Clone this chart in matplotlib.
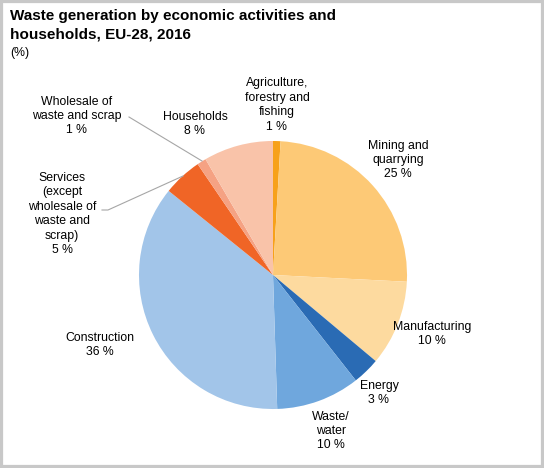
import matplotlib.pyplot as plt
from matplotlib.patches import Rectangle

# Data (shares in %)
categories = ["Agriculture,\nforestry and\nfishing", "Mining and\nquarrying", "Manufacturing",
              "Energy", "Waste/\nwater", "Construction",
              "Services\n(except\nwholesale of\nwaste and\nscrap)", "Wholesale of\nwaste and scrap",
              "Households"]
shares = [0.9, 24.9, 10.3, 3.3, 10.1, 36.3, 4.7, 1.1, 8.4]
labels_pct = ["1 %", "25 %", "10 %", "3 %", "10 %", "36 %", "5 %", "1 %", "8 %"]
colors = ["#F7A11A", "#FDC976", "#FDDA9F", "#2A6BB4", "#6FA7DD", "#A2C5E9",
          "#F06526", "#F5A283", "#F9C3A9"]

# label centre positions in pixels (layout only)
label_pos = [(277, 105), (398, 160), (432, 334), (379, 393), (331, 431),
             (100, 345), (62, 214), (77, 116), (195, 124)]

W, H = 544, 468
cx, cy, r = 273, 275, 134

plt.rcParams['font.family'] = ['Liberation Sans', 'DejaVu Sans']
fig = plt.figure(figsize=(W / 100, H / 100), dpi=100)

ax = fig.add_axes([(cx - r) / W, (H - cy - r) / H, 2 * r / W, 2 * r / H])
ax.pie(shares, colors=colors, startangle=90, counterclock=False, radius=1,
       wedgeprops=dict(linewidth=0))
ax.set_xlim(-1, 1)
ax.set_ylim(-1, 1)
ax.set_aspect('equal')
ax.axis('off')

for cat, pct, (px, py) in zip(categories, labels_pct, label_pos):
    fig.text(px / W, 1 - py / H, cat + "\n" + pct, ha='center', va='center',
             fontsize=8.8, color='#000000', linespacing=1.27)

# leader lines for the two small slices on the left
line_kw = dict(color='#A6A6A6', linewidth=0.8, transform=fig.transFigure)
fig.add_artist(plt.Line2D([129 / W, 202 / W], [1 - 117 / H, 1 - 161 / H], **line_kw))
fig.add_artist(plt.Line2D([102 / W, 108 / W, 183 / W],
                          [1 - 210 / H, 1 - 210 / H, 1 - 176 / H], **line_kw))

# titles
fig.text(10 / W, 1 - 9 / H, "Waste generation by economic activities and\nhouseholds, EU-28, 2016",
         ha='left', va='top', fontsize=11, fontweight='bold', linespacing=1.4)
fig.text(10 / W, 1 - 47 / H, "(%)", ha='left', va='top', fontsize=8.8)

# grey frame
fig.add_artist(Rectangle((0, 0), 1, 1, transform=fig.transFigure, fill=False,
                         edgecolor='#C8C8C8', linewidth=4.5))

fig.savefig("out.png", dpi=100)
